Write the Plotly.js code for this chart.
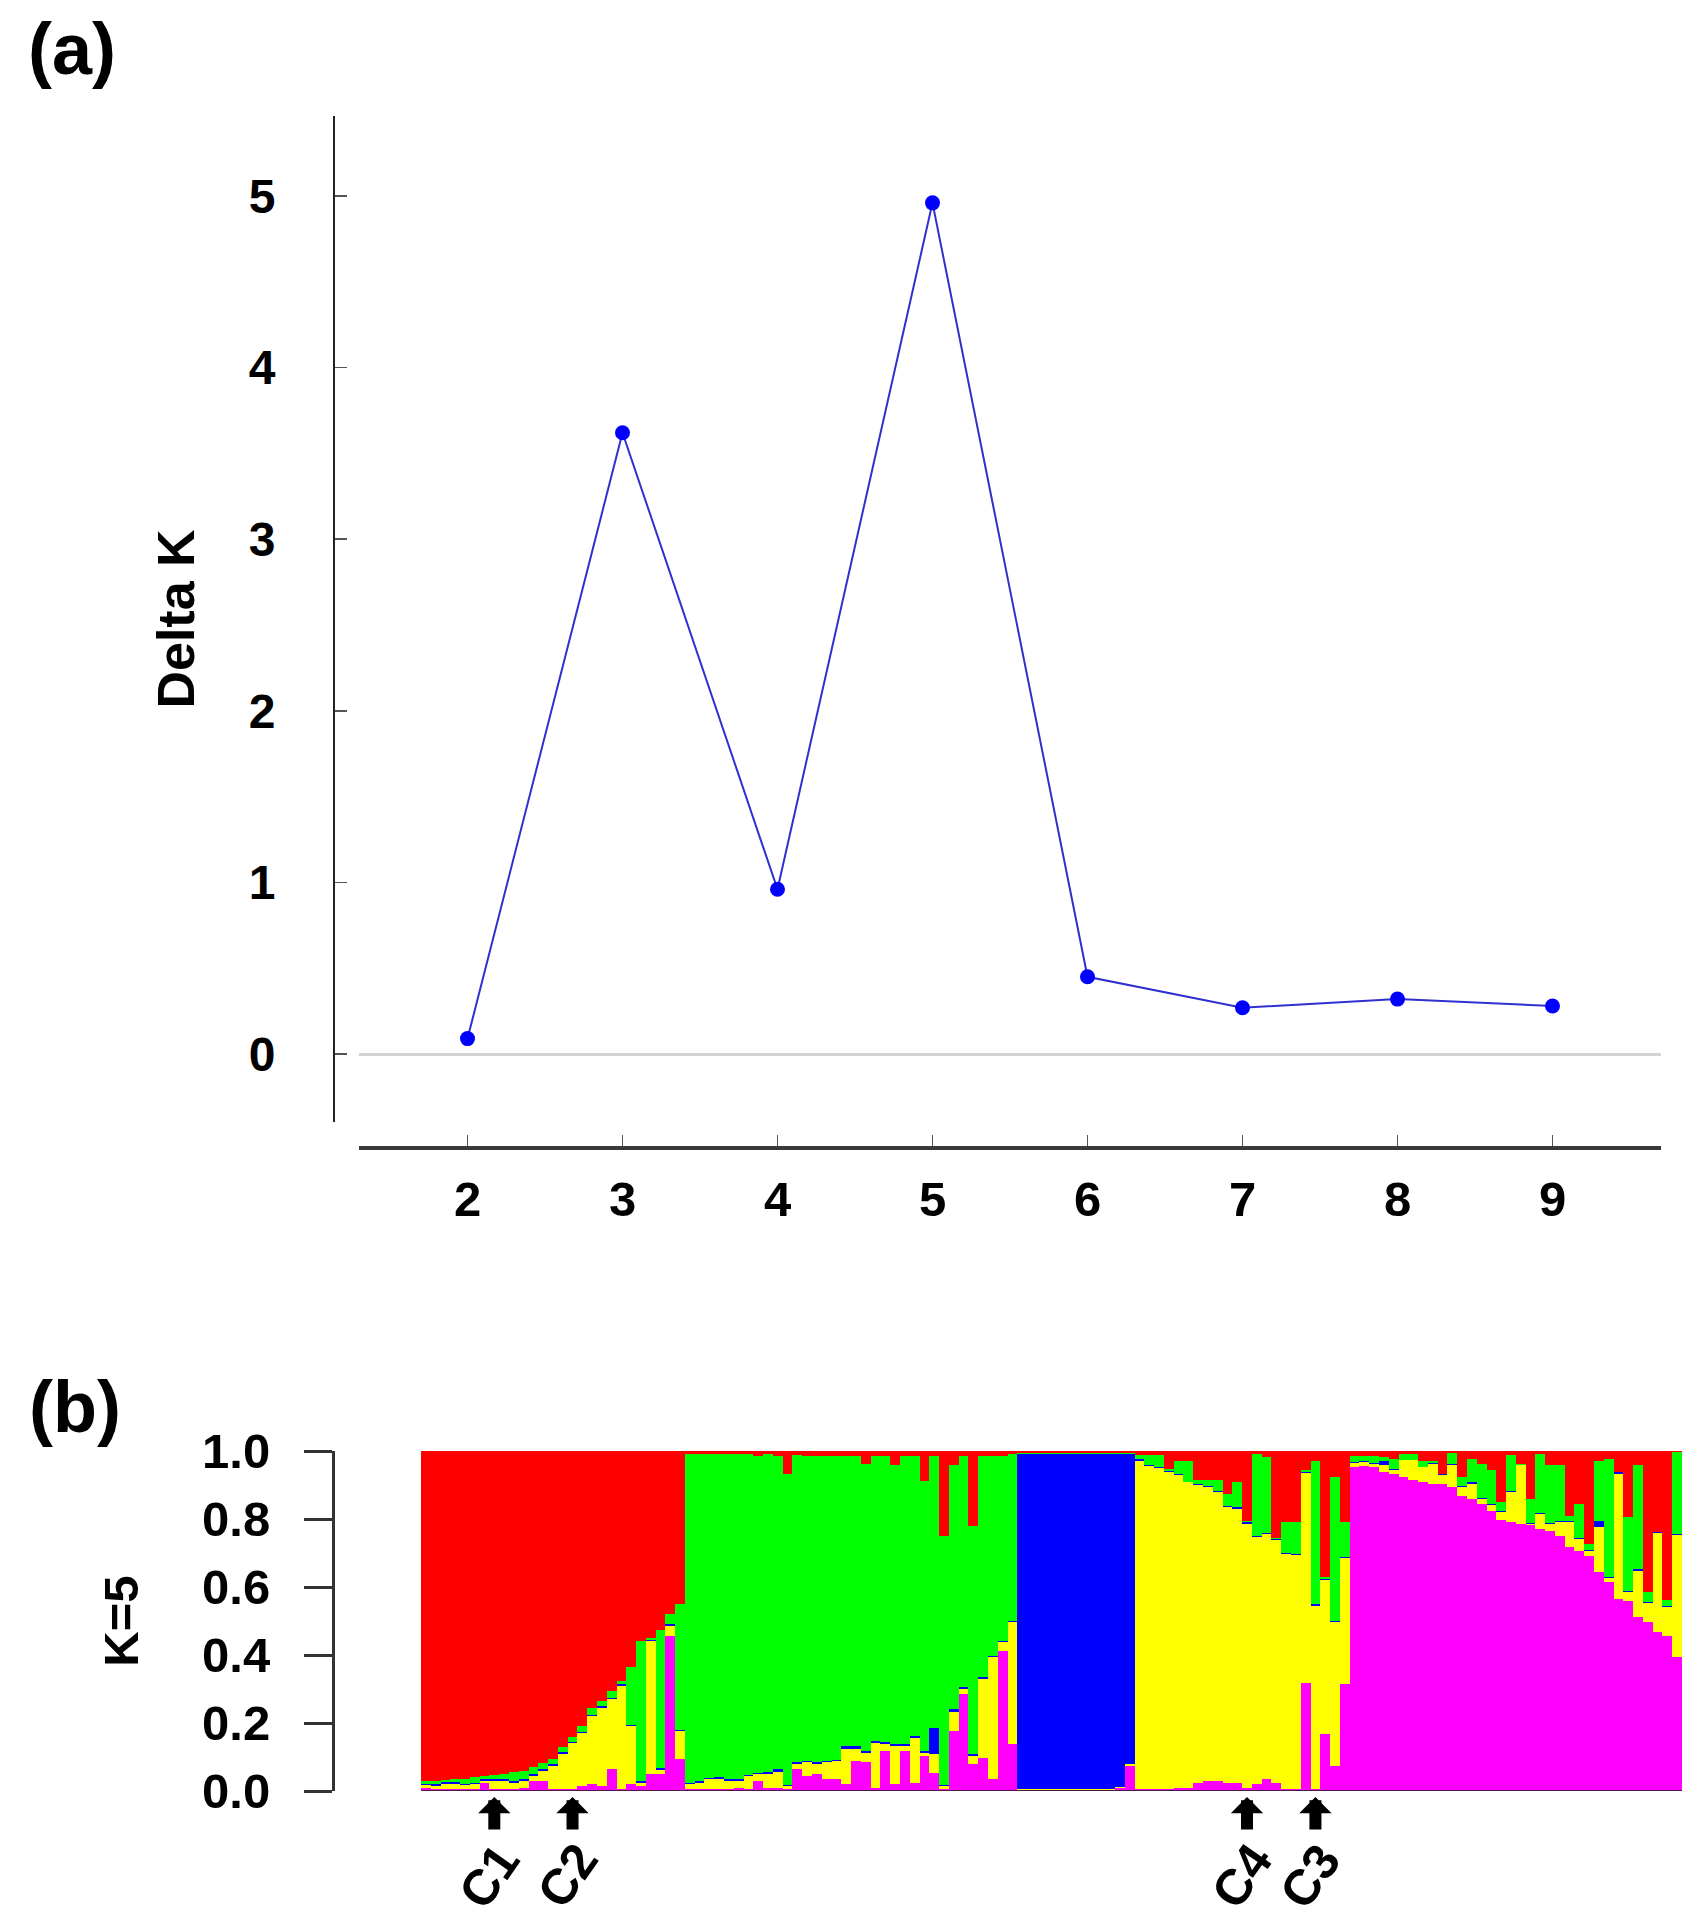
<!DOCTYPE html>
<html>
<head>
<meta charset="utf-8">
<script src="https://cdn.plot.ly/plotly-3.0.1.min.js"></script>
<style>html,body{margin:0;padding:0;background:#fff}</style>
</head>
<body>
<div id="chart" style="width:1695px;height:1919px"></div>
<script>
// (a) Evanno Delta K for K = 2..9
const kValues = [2, 3, 4, 5, 6, 7, 8, 9];
const deltaK = [0.09, 3.62, 0.96, 4.96, 0.45, 0.27, 0.32, 0.28];

// (b) membership coefficients per individual at K = 5 (129 individuals)
const magenta = [
  0.008,0.006,0.006,0.006,0.006,0.006,0.025,0.006,0.006,0.006,0.010,0.030,0.028,0.006,0.006,0.006,0.015,0.020,0.015,0.065,0.005,0.020,0.015,0.050,0.050,0.455,0.093,
  0.005,0.005,0.005,0.005,0.005,0.010,0.005,0.030,0.010,0.010,0.005,0.064,0.044,0.049,0.034,0.034,0.020,0.088,0.084,0.010,0.118,0.020,0.118,0.025,0.103,0.054,0.005,0.177,0.285,0.079,0.098,0.034,0.412,0.138,
  0.003,0.003,0.003,0.003,0.003,0.003,0.003,0.003,0.003,0.003,0.010,0.075,
  0.005,0.005,0.005,0.005,0.010,0.010,0.025,0.030,0.030,0.025,0.025,0.010,0.020,0.035,0.025,0.005,0.005,0.319,0.005,0.167,0.074,0.314,
  0.953,0.955,0.953,0.938,0.933,0.924,0.914,0.909,0.904,0.904,0.894,0.869,0.859,0.845,0.825,0.796,0.791,0.786,0.781,0.771,0.766,0.751,0.717,0.707,0.692,0.643,0.614,0.565,0.560,0.511,0.496,0.467,0.457,0.393
];
const yellow = [
  0.010,0.009,0.014,0.014,0.012,0.014,0.003,0.024,0.024,0.019,0.020,0.015,0.032,0.069,0.104,0.134,0.155,0.200,0.230,0.205,0.305,0.170,0.010,0.390,0.013,0.030,0.083,
  0.015,0.020,0.030,0.030,0.025,0.020,0.040,0.020,0.040,0.045,0.010,0.016,0.040,0.030,0.050,0.055,0.103,0.035,0.029,0.132,0.020,0.113,0.015,0.132,0.010,0.054,0.010,0.054,0.015,0.024,0.231,0.359,0.025,0.358,
  0.003,0.003,0.003,0.003,0.003,0.003,0.003,0.003,0.003,0.003,0.002,0.003,
  0.967,0.951,0.945,0.933,0.918,0.898,0.874,0.864,0.849,0.810,0.805,0.776,0.727,0.721,0.712,0.692,0.690,0.615,0.540,0.454,0.422,0.371,
  0.012,0.013,0.009,0.022,0.011,0.049,0.059,0.043,0.059,0.025,0.064,0.025,0.045,0.015,0.015,0.025,0.088,0.172,0.005,0.043,0.020,0.039,0.074,0.035,0.015,0.133,0.012,0.368,0.025,0.137,0.057,0.292,0.083,0.359
];
const blue = [
  0.004,0.005,0.006,0.006,0.004,0.004,0.006,0.006,0.006,0.005,0.005,0.005,0.005,0.005,0.005,0.005,0.005,0.005,0.005,0.005,0.005,0.003,0.005,0.005,0.005,0.005,0.004,
  0.004,0.003,0.003,0.005,0.005,0.005,0.003,0.003,0.005,0.010,0.003,0.005,0.005,0.005,0.005,0.003,0.010,0.010,0.005,0.005,0.005,0.005,0.005,0.005,0.005,0.077,0.003,0.010,0.007,0.007,0.005,0.005,0.005,0.004,
  0.984,0.984,0.984,0.984,0.984,0.984,0.984,0.984,0.984,0.984,0.978,0.912,
  0.005,0.004,0.003,0.002,0.004,0.002,0.003,0.003,0.003,0.003,0.004,0.004,0.004,0.004,0.003,0.003,0.003,0.003,0.005,0.004,0.004,0.003,
  0.003,0.003,0.003,0.010,0.004,0.002,0.002,0.002,0.002,0.003,0.003,0.003,0.004,0.003,0.003,0.004,0.003,0.002,0.003,0.003,0.003,0.003,0.003,0.003,0.003,0.018,0.004,0.004,0.003,0.004,0.003,0.004,0.003,0.003
];
const green = [
  0.006,0.010,0.006,0.008,0.014,0.016,0.009,0.010,0.014,0.025,0.025,0.020,0.017,0.013,0.015,0.015,0.015,0.020,0.015,0.020,0.010,0.172,0.410,0.005,0.407,0.030,0.370,
  0.966,0.962,0.952,0.950,0.955,0.955,0.942,0.932,0.935,0.920,0.915,0.902,0.896,0.901,0.896,0.893,0.852,0.852,0.845,0.838,0.842,0.822,0.847,0.823,0.795,0.800,0.732,0.719,0.678,0.670,0.651,0.587,0.543,0.490,
  0.004,0.004,0.004,0.004,0.004,0.004,0.004,0.004,0.004,0.004,0.003,0.003,
  0.010,0.027,0.034,0.008,0.038,0.060,0.012,0.017,0.032,0.036,0.074,0.005,0.241,0.222,0.005,0.090,0.092,0.007,0.422,0.005,0.424,0.103,
  0.017,0.014,0.020,0.012,0.029,0.015,0.015,0.018,0.007,0.000,0.033,0.026,0.069,0.100,0.100,0.024,0.105,0.003,0.070,0.175,0.169,0.165,0.016,0.100,0.017,0.178,0.347,0.000,0.218,0.306,0.028,0.000,0.020,0.242
];
const red = [
  0.972,0.970,0.968,0.966,0.964,0.960,0.957,0.954,0.950,0.945,0.940,0.930,0.918,0.907,0.870,0.840,0.810,0.755,0.735,0.705,0.675,0.635,0.560,0.550,0.525,0.480,0.450,
  0.010,0.010,0.010,0.010,0.010,0.010,0.010,0.015,0.010,0.015,0.067,0.013,0.015,0.015,0.015,0.015,0.015,0.015,0.037,0.015,0.015,0.040,0.015,0.015,0.087,0.015,0.250,0.040,0.015,0.220,0.015,0.015,0.015,0.010,
  0.006,0.006,0.006,0.006,0.006,0.006,0.006,0.006,0.006,0.006,0.007,0.007,
  0.013,0.013,0.013,0.052,0.030,0.030,0.086,0.086,0.086,0.126,0.092,0.205,0.008,0.018,0.255,0.210,0.210,0.056,0.028,0.370,0.076,0.209,
  0.015,0.015,0.015,0.018,0.023,0.010,0.010,0.028,0.028,0.068,0.006,0.077,0.023,0.037,0.057,0.151,0.013,0.037,0.141,0.008,0.042,0.042,0.190,0.155,0.273,0.028,0.023,0.063,0.194,0.042,0.416,0.237,0.437,0.003
];

// marked sample groups (1-based individual number)
const markedLabels = ['C1', 'C2', 'C4', 'C3'];
const markedIndividuals = [8, 16, 85, 92];

const W = 1695, H = 1919;
const fx = px => px / W;
const fy = px => 1 - px / H;
const FONT = '"Liberation Sans", Arial, sans-serif';
const boldFont = (size) => ({family: FONT, size: size, color: '#000', weight: 'bold'});

const individuals = magenta.map((_, i) => i + 1);

const clusterSeries = [
  {name: 'magenta', values: magenta, color: '#ff00ff'},
  {name: 'yellow', values: yellow, color: '#ffff00'},
  {name: 'blue', values: blue, color: '#0000ff'},
  {name: 'green', values: green, color: '#00ff00'},
  {name: 'red', values: red, color: '#ff0000'}
];

const traces = [{
  x: kValues, y: deltaK, type: 'scatter', mode: 'lines+markers',
  xaxis: 'x', yaxis: 'y',
  line: {color: '#3030d0', width: 2},
  marker: {color: '#0000ff', size: 15},
  showlegend: false, hoverinfo: 'x+y'
}];

clusterSeries.forEach(s => traces.push({
  x: individuals, y: s.values, type: 'bar', name: s.name,
  xaxis: 'x2', yaxis: 'y2',
  marker: {color: s.color, line: {width: 0}},
  showlegend: false
}));

const annotations = [
  {text: '(a)', x: fx(72), y: fy(49), xref: 'paper', yref: 'paper', showarrow: false, font: boldFont(72), xanchor: 'center', yanchor: 'middle'},
  {text: '(b)', x: fx(75), y: fy(1407), xref: 'paper', yref: 'paper', showarrow: false, font: boldFont(72), xanchor: 'center', yanchor: 'middle'}
];
markedIndividuals.forEach((ind, j) => {
  annotations.push({
    x: ind, y: 0, xref: 'x2', yref: 'y2', text: '', showarrow: true,
    ax: 0, ay: 40, axref: 'pixel', ayref: 'pixel', standoff: 6,
    arrowhead: 1, arrowwidth: 12, arrowsize: 0.45, arrowcolor: '#000'
  });
  annotations.push({
    x: ind, y: fy(1876), xref: 'x2', yref: 'paper', text: markedLabels[j],
    showarrow: false, textangle: -55, xshift: -5, font: boldFont(50),
    xanchor: 'center', yanchor: 'middle'
  });
});

const layout = {
  width: W, height: H,
  margin: {l: 0, r: 0, t: 0, b: 0},
  paper_bgcolor: '#fff', plot_bgcolor: 'rgba(0,0,0,0)',
  barmode: 'stack', bargap: 0,
  xaxis: {
    domain: [fx(359), fx(1661)], range: [1.30, 9.70],
    anchor: 'free', position: fy(1148),
    showline: true, linecolor: '#3a3a3a', linewidth: 4,
    ticks: 'inside', ticklen: 11, tickwidth: 1.5, tickcolor: '#555',
    tickvals: kValues, tickfont: boldFont(49), ticklabelstandoff: 7,
    showgrid: false, zeroline: false
  },
  yaxis: {
    domain: [fy(1122), fy(116)], range: [-0.396, 5.466],
    anchor: 'free', position: fx(334),
    showline: true, linecolor: '#222', linewidth: 2,
    ticks: 'inside', ticklen: 12, tickwidth: 1.5, tickcolor: '#555',
    tickvals: [0, 1, 2, 3, 4, 5], tickfont: boldFont(48), ticklabelstandoff: 48,
    showgrid: false, zeroline: true, zerolinecolor: '#d2d2d2', zerolinewidth: 3,
    title: {text: 'Delta K', font: boldFont(52), standoff: 36}
  },
  xaxis2: {
    domain: [fx(421), fx(1682)], range: [0.5, 129.5],
    anchor: 'y2', visible: false, showgrid: false, zeroline: false
  },
  yaxis2: {
    domain: [fy(1791), fy(1451)], range: [0, 1],
    anchor: 'free', position: fx(333),
    showline: true, linecolor: '#333', linewidth: 3,
    ticks: 'outside', ticklen: 28, tickwidth: 3, tickcolor: '#333',
    tickvals: [0, 0.2, 0.4, 0.6, 0.8, 1.0], tickformat: '.1f',
    tickfont: boldFont(49), ticklabelstandoff: 24,
    showgrid: false, zeroline: false,
    title: {text: 'K=5', font: boldFont(49), standoff: 46}
  },
  shapes: [
    {type: 'line', xref: 'x2', yref: 'y2', x0: 0.5, x1: 129.5, y0: 0, y1: 0,
     line: {color: '#4a1a4a', width: 2}}
  ],
  annotations: annotations
};

Plotly.newPlot('chart', traces, layout, {displayModeBar: false, staticPlot: true});
</script>
</body>
</html>
